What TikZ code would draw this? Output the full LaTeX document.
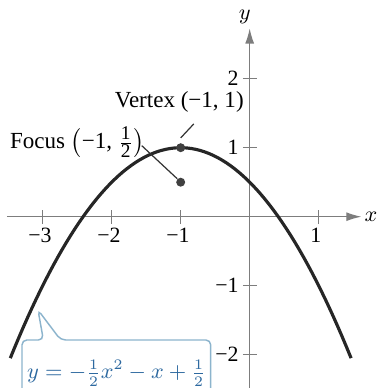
\documentclass[tikz,border=0pt]{standalone}
\usepackage[no-math]{fontspec}
\setmainfont{Liberation Serif}
\usetikzlibrary{arrows.meta}
\definecolor{axisgray}{RGB}{125,125,125}
\definecolor{callborder}{RGB}{140,180,205}
\definecolor{calltext}{RGB}{45,105,160}
\begin{document}
\begin{tikzpicture}[x=1cm,y=1cm,
  axis/.style={draw=axisgray,line width=0.5pt},
  tick/.style={draw=axisgray,line width=0.5pt},
  ticklabel/.style={font=\fontsize{9}{10}\selectfont,inner sep=1pt},
  curve/.style={line width=1.3pt,black!85},
  dot/.style={circle,fill=black!75,inner sep=0pt,minimum size=0.13cm},
  lbl/.style={font=\fontsize{9.5}{10}\selectfont,inner sep=0pt},
  leader/.style={draw=black!80,line width=0.5pt}]
\useasboundingbox (-3.619,-2.483) rectangle (1.874,3.141);
% axes
\draw[axis,-{Latex[length=2.2mm,width=1.3mm]}] (-3.52,0) -- (1.62,0);
\draw[axis,-{Latex[length=2.2mm,width=1.3mm]}] (0,-2.6) -- (0,2.73);
\node[font=\fontsize{9.5}{10}\selectfont] (xl) at (1.76,0) {$x$};
\node[font=\fontsize{9.5}{10}\selectfont] (yl) at (-0.07,2.9) {$y$};
% x ticks
\foreach \v/\t in {-3/−3,-2/−2,-1/−1,1/1} {
  \draw[tick] (\v,-0.1) -- (\v,0.1);
  \node[ticklabel,anchor=north] (tx\v) at (\v-0.04,-0.12) {\t};
}
% y ticks
\foreach \v/\t in {-2/−2,-1/−1,1/1,2/2} {
  \draw[tick] (-0.1,\v) -- (0.1,\v);
  \node[ticklabel,anchor=east] (ty\v) at (-0.12,\v) {\t};
}
% parabola
\draw[curve,domain=-3.47:1.47,samples=80] plot (\x,{-0.5*\x*\x-\x+0.5});
% points
\node[dot] (vertex) at (-1,1) {};
\node[dot] (focus) at (-1,0.5) {};
% labels
\node[lbl] (vlabel) at (-1.02,1.67) {Vertex (−1, 1)};
\node[lbl,anchor=west] (flabel) at (-3.48,1.08)
  {Focus $\bigl(\mbox{−1, }\frac{\mbox{\fontsize{8}{8}\selectfont 1}}{\mbox{\fontsize{8}{8}\selectfont 2}}\bigr)$};
\coordinate (vl1) at (-0.81,1.345);
\coordinate (fl1) at (-1.565,1.03);
\draw[leader] (vl1) -- ([yshift=0.07cm]vertex.north);
\draw[leader] (fl1) -- (focus.north west);
% callout
\draw[draw=callborder,line width=0.6pt,fill=white,rounded corners=2pt]
  (-3.30,-2.7) -- (-3.30,-1.787) -- (-2.99,-1.787) -- (-3.068,-1.352)
  -- (-2.74,-1.787) -- (-0.565,-1.787) -- (-0.565,-2.7);
\node[text=calltext,font=\fontsize{9}{10}\selectfont,inner sep=0pt] (eq) at (-1.93,-2.27)
  {$y=-\frac{1}{2}x^2-x+\frac{1}{2}$};
\end{tikzpicture}
\end{document}
